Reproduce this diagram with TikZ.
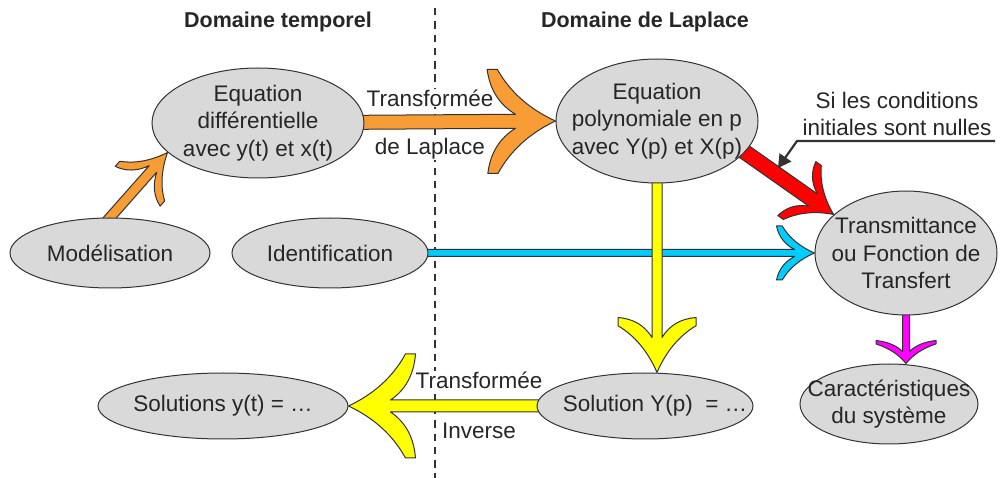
\documentclass[tikz,border=0pt]{standalone}
\usepackage{fontspec}
\setmainfont{Liberation Sans}
\usetikzlibrary{calc, shapes.geometric, arrows.meta, backgrounds}

\definecolor{traitgris}{HTML}{333333}
\definecolor{fondgris}{HTML}{D9D9D9}
\definecolor{textegris}{HTML}{262626}
\definecolor{orangefl}{HTML}{F89C35}
\definecolor{cyanfl}{HTML}{00CCFF}
\definecolor{rougefl}{HTML}{FF0000}
\definecolor{jaunefl}{HTML}{FFFF00}
\definecolor{magentafl}{HTML}{FF00FF}

\tikzset{
  bulle/.style={ellipse, draw=traitgris, fill=fondgris, line width=1pt, inner sep=0pt},
  texte/.style={align=center, inner sep=0pt},
  legende/.style={fill=white, inner sep=0.5pt, align=center},
  titre/.style={font=\fontsize{21.5}{26}\selectfont\bfseries},
}

% fleche epaisse : couleur, depart, arrivee, demi-corps, demi-pointe, longueur pointe, col
\newcommand\fleche[7]{%
  \path (#2) coordinate (fldep) (#3) coordinate (flarr);
  \pgfpointdiff{\pgfpointanchor{fldep}{center}}{\pgfpointanchor{flarr}{center}}%
  \pgfgetlastxy{\fldx}{\fldy}%
  \pgfmathsetmacro\flang{atan2(\fldy,\fldx)}%
  \pgfmathsetmacro\fllen{veclen(\fldx,\fldy)}%
  \begin{scope}[shift={(fldep)},rotate=\flang,x=1pt,y=1pt]
    \filldraw[fill=#1,draw=traitgris,line width=1pt,line join=round]
      (0,-#4) -- ({\fllen-#7},-#4)
      .. controls ({\fllen-#6+2*(#6-#7)/3-0.1*#6},{-#5+2*(#5-#4)/3+0.1*#5})
             and ({\fllen-#6+(#6-#7)/3-0.1*#6},{-#5+(#5-#4)/3+0.1*#5}) .. ({\fllen-#6},-#5)
      -- ({\fllen-0.85*#6},-#5)
      .. controls ({\fllen-0.667*#6},{-0.567*#5}) and ({\fllen-0.383*#6},{-0.233*#5}) .. (\fllen,0)
      .. controls ({\fllen-0.383*#6},{0.233*#5}) and ({\fllen-0.667*#6},{0.567*#5}) .. ({\fllen-0.85*#6},#5)
      -- ({\fllen-#6},#5)
      .. controls ({\fllen-#6+(#6-#7)/3-0.1*#6},{#5-(#5-#4)/3-0.1*#5})
             and ({\fllen-#6+2*(#6-#7)/3-0.1*#6},{#5-2*(#5-#4)/3-0.1*#5}) .. ({\fllen-#7},#4)
      -- (0,#4) -- cycle;
  \end{scope}}

\begin{document}
\begin{tikzpicture}[x=1pt, y=-1pt, font=\fontsize{22.5}{27.5}\selectfont, text=textegris]
    \useasboundingbox (0,0) rectangle (1005,478);

    % les bulles
    \node[bulle, minimum width=212pt, minimum height=110pt] (ed) at (258,123) {};
    \node[texte] at (ed) {Equation\\différentielle\\avec y(t) et x(t)};
    \node[bulle, minimum width=200pt, minimum height=70pt] (mod) at (110,253) {};
    \node[texte] at (mod) {Modélisation};
    \node[bulle, minimum width=196pt, minimum height=70pt] (id) at (330,253) {};
    \node[texte] at (id) {Identification};
    \node[bulle, minimum width=202pt, minimum height=124pt] (ep) at (657,121) {};
    \node[texte] at (ep) {Equation\\polynomiale en p\\avec Y(p) et X(p)};
    \node[bulle, minimum width=182pt, minimum height=124pt] (tf) at (906,253) {};
    \node[texte] at (tf) {Transmittance\\ou Fonction de\\Transfert};
    \node[bulle, minimum width=216pt, minimum height=66pt] (sol) at (645,406) {};
    \node[texte] at ($(sol)+(10,0)$) {Solution Y(p) \ = \dots};
    \node[bulle, minimum width=250pt, minimum height=66pt] (sy) at (223,406) {};
    \node[texte] at (sy) {Solutions y(t) = \dots};
    \node[bulle, minimum width=178pt, minimum height=80pt] (car) at (889,404) {};
    \node[texte] at (car) {Caractéristiques\\du système};

    % titres
    \node[titre] (tt) at (278,22) {Domaine temporel};
    \node[titre] (tl) at (645,22) {Domaine de Laplace};

    \begin{scope}[on background layer]
        % separation des domaines
        \coordinate (haut) at (435,8);
        \coordinate (bas) at (435,478);
        \draw[traitgris, line width=1.3pt, dash pattern=on 7.5pt off 5.8pt] (haut) -- (bas);

        \node[legende] (tl1) at (430,98) {Transformée};
        \node[legende] (tl2) at (430,149) {de Laplace};
        \node[legende] (ti1) at (479,380) {Transformée};
        \node[legende] (ti2) at (479,431) {Inverse};

        \fleche{orangefl}{$(ed.198)!1.15!(mod.north)$}{ed.198}{5}{30}{45}{22}
        \fleche{orangefl}{ed}{ep.west}{7}{52}{68}{40}
        \fleche{rougefl}{$(ep)!0.85!(ep.-17)$}{tf.152}{7.5}{33}{45}{25}
        \fleche{cyanfl}{id}{tf.west}{3.5}{27}{38}{20}
        \fleche{jaunefl}{ep}{ep |- sol.north}{5}{39}{55}{35}
        \fleche{jaunefl}{sol}{sy.east}{6}{52}{67}{42}
        \fleche{magentafl}{tf}{tf |- car.north}{3.5}{30}{23}{12}
    \end{scope}

    % conditions initiales
    \node[align=center] (ci) at (897,114) {Si les conditions\\initiales sont nulles};
    \coordinate (ci1) at (995,141);
    \coordinate (ci2) at (797,141);
    \coordinate (ci3) at (778,168);
    \draw[traitgris, line width=2.2pt, -{Triangle[length=13pt,width=14pt]}] (ci1) -- (ci2) -- (ci3);
\end{tikzpicture}
\end{document}
